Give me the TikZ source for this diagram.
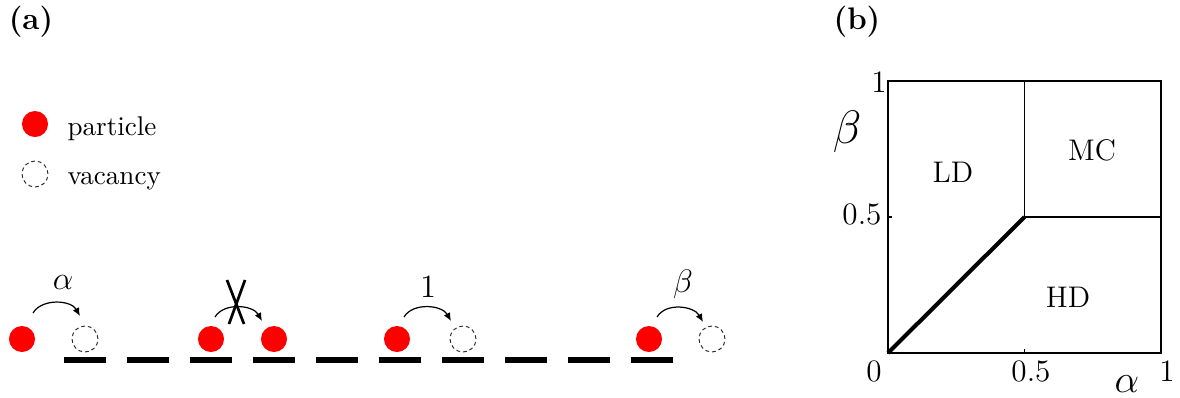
\documentclass[tikz,border=0pt]{standalone}
\usetikzlibrary{arrows.meta,calc}
\begin{document}
\begin{tikzpicture}[x=0.369pt,y=-0.369pt,
  particle/.style={circle,fill=red,inner sep=0pt,minimum size=9.6pt},
  vacancy/.style={circle,draw=black!85,line width=0.35pt,dash pattern=on 1.4pt off 1.1pt,inner sep=0pt,minimum size=9.6pt},
  site/.style={rectangle,fill=black,inner sep=0pt,minimum width=15.5pt,minimum height=2.4pt},
  hop/.style={line width=0.45pt,-{Latex[length=3pt,width=2.6pt]}},
  lbl/.style={inner sep=0pt},
  frame/.style={line width=0.6pt},
]
\useasboundingbox (0,0) rectangle (1180,397);

% panel labels
\node[lbl,font=\fontsize{11.5}{13}\selectfont\bfseries] (la) at (31,22) {(a)};
\node[lbl,font=\fontsize{11.5}{13}\selectfont\bfseries] (lb) at (857,22) {(b)};

% legend
\node[particle] (kp) at (35,124) {};
\node[vacancy] (kv) at (35,174) {};
\node[lbl,anchor=base west] (kpt) at (67,135) {particle};
\node[lbl,anchor=base west] (kvt) at (67,184) {vacancy};

% lattice sites
\foreach \k in {0,...,9}
  \node[site] (s\k) at ({85+63*\k},360) {};

% particles and vacancies
\node[particle] (p0) at (22,339) {};
\node[vacancy]  (v0) at (85,339) {};
\node[particle] (p1) at (211,339) {};
\node[particle] (p2) at (274,339) {};
\node[particle] (p3) at (397,339) {};
\node[vacancy]  (v3) at (463,339) {};
\node[particle] (p4) at (649,339) {};
\node[vacancy]  (v4) at (712,339) {};

% hops
\draw[hop] ([shift={(11,-26)}]p0.center) .. controls +(9,-15) and +(-9,-16) .. ([shift={(-5,-23)}]v0.center);
\draw[hop] ([shift={(4,-22)}]p1.center) .. controls +(9,-15) and +(-9,-16) .. ([shift={(-12,-18)}]p2.center);
\draw[hop] ([shift={(7,-22)}]p3.center) .. controls +(9,-15) and +(-9,-16) .. ([shift={(-12,-18)}]v3.center);
\draw[hop] ([shift={(8,-22)}]p4.center) .. controls +(9,-15) and +(-9,-16) .. ([shift={(-9,-17)}]v4.center);

% blocked hop
\coordinate (x1) at (227,280);
\coordinate (x2) at (244,324);
\coordinate (x3) at (245,280);
\coordinate (x4) at (229,324);
\draw[line width=1pt] (x1) -- (x2);
\draw[line width=1pt] (x3) -- (x4);

% rates
\node[lbl,anchor=base,font=\large] (ra) at (63,289) {$\alpha$};
\node[lbl,anchor=base,font=\large] (r1) at (428,297) {$1$};
\node[lbl,anchor=base,font=\large] (rb) at (683,292) {$\beta$};

% phase diagram
\coordinate (o) at (888,353);
\coordinate (tr) at (1161,81);
\coordinate (m) at (1024.5,217);
\draw[frame] (o) rectangle (tr);
\draw[frame] (m) -- (m |- tr);
\draw[frame] (m) -- (m -| tr);
\draw[frame] (o |- m) -- ++(4,0);
\draw[frame] (m |- o) -- ++(0,-4);
\draw[line width=1.5pt] (o) -- (m);

\node[lbl,font=\fontsize{11.5}{13}\selectfont] (y1) at (879,82) {1};
\node[lbl,font=\fontsize{11.5}{13}\selectfont] (y5) at (862,214) {0.5};
\node[lbl,font=\fontsize{11.5}{13}\selectfont] (x0) at (874,371) {0};
\node[lbl,font=\fontsize{11.5}{13}\selectfont] (x5) at (1031,371) {0.5};
\node[lbl,font=\fontsize{11.5}{13}\selectfont] (x1l) at (1167,371) {1};
\node[lbl,font=\fontsize{15}{17}\selectfont] (ab) at (1127,384) {$\alpha$};
\node[lbl,font=\fontsize{16}{18}\selectfont] (bb) at (847,132) {$\beta$};

\node[lbl,font=\fontsize{11}{13}\selectfont] (ld) at (953,172) {LD};
\node[lbl,font=\fontsize{11}{13}\selectfont] (mc) at (1092,150) {MC};
\node[lbl,font=\fontsize{11}{13}\selectfont] (hd) at (1068,297) {HD};
\end{tikzpicture}
\end{document}
